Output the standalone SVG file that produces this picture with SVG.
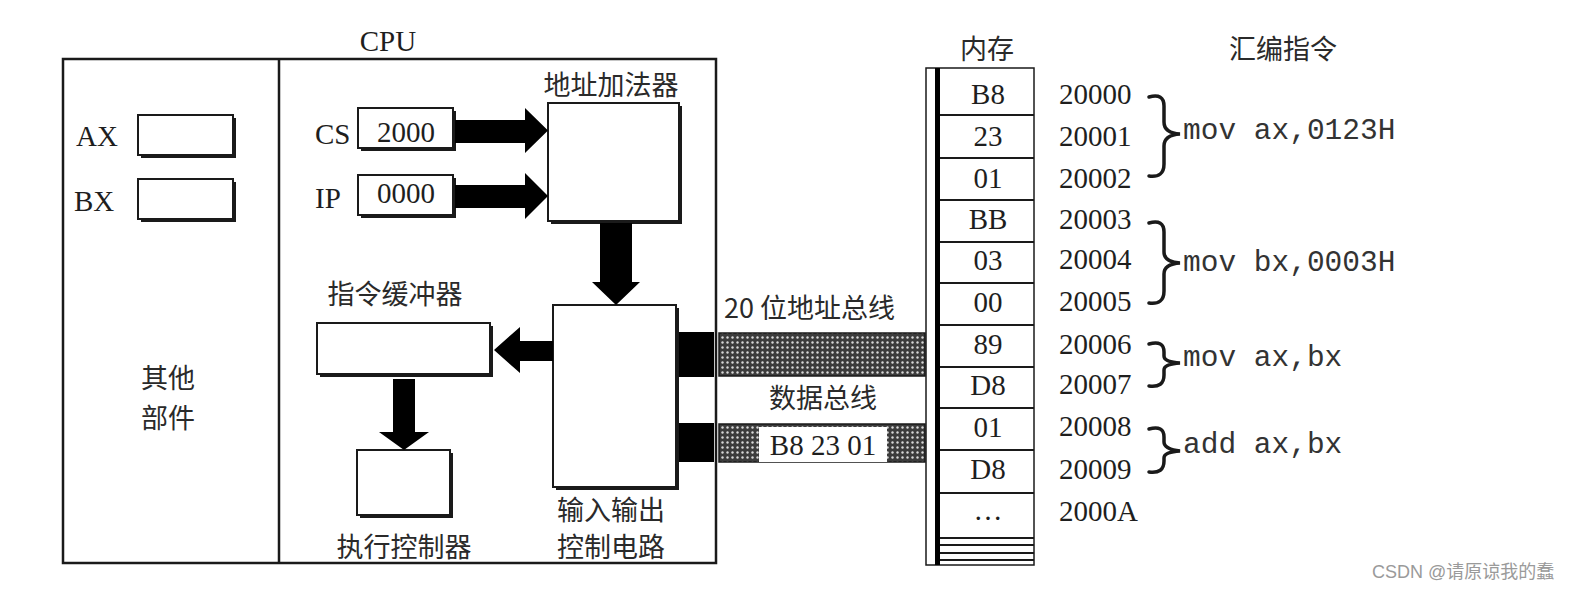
<svg xmlns="http://www.w3.org/2000/svg" width="1577" height="593" viewBox="0 0 1577 593">
<style>
.t{font-family:"Liberation Serif","Noto Sans CJK SC",serif;font-size:29px;fill:#1e1e1e}
.c{font-family:"Noto Sans CJK SC",sans-serif;font-size:27px;fill:#2a2a2a}
.m{font-family:"Liberation Mono",monospace;font-size:29.5px;fill:#333}
.box{fill:#fff;stroke:#1a1a1a;stroke-width:2}
.sh{fill:#1a1a1a}
.ln{fill:none;stroke:#1a1a1a;stroke-width:2.5}
.arr{fill:#000}
.br{fill:none;stroke:#1a1a1a;stroke-width:3.5;stroke-linecap:round}
.wm{font-family:"Liberation Sans","Noto Sans CJK SC",sans-serif;font-size:18px;fill:#9a9a9a}
</style>
<defs>
<pattern id="hatch" width="5" height="5" patternUnits="userSpaceOnUse">
<rect width="5" height="5" fill="#3c3c3c"/>
<circle cx="2.5" cy="2.5" r="1.2" fill="#d8d8d8"/>
</pattern>
</defs>
<rect width="1577" height="593" fill="#fff"/>

<g id="cpu-frame">
<rect x="63" y="59" width="653" height="504" class="ln"/>
<line x1="279" y1="59" x2="279" y2="563" class="ln"/>
<text x="388" y="51" class="t" text-anchor="middle">CPU</text>
</g>

<g id="other-parts">
<text x="168" y="388" class="c" text-anchor="middle">其他</text>
<text x="168" y="428" class="c" text-anchor="middle">部件</text>
</g>

<g id="ax">
<text x="76" y="146" class="t">AX</text>
<rect x="141" y="118" width="95" height="40" class="sh"/>
<rect x="138" y="115" width="95" height="40" class="box"/>
</g>
<g id="bx">
<text x="74" y="211" class="t">BX</text>
<rect x="141" y="182" width="95" height="40" class="sh"/>
<rect x="138" y="179" width="95" height="40" class="box"/>
</g>

<g id="cs">
<text x="315" y="144" class="t">CS</text>
<rect x="361" y="111" width="95" height="40" class="sh"/>
<rect x="358" y="108" width="95" height="40" class="box"/>
<text x="406" y="142" class="t" text-anchor="middle">2000</text>
</g>
<g id="ip">
<text x="315" y="208" class="t">IP</text>
<rect x="361" y="178" width="95" height="40" class="sh"/>
<rect x="358" y="175" width="95" height="40" class="box"/>
<text x="406" y="203" class="t" text-anchor="middle">0000</text>
</g>

<g id="adder">
<text x="611" y="95" class="c" text-anchor="middle">地址加法器</text>
<rect x="551" y="106" width="131" height="118" class="sh"/>
<rect x="548" y="103" width="131" height="118" class="box"/>
</g>

<g id="io">
<rect x="556" y="308" width="123" height="182" class="sh"/>
<rect x="553" y="305" width="123" height="182" class="box"/>
<text x="611" y="520" class="c" text-anchor="middle">输入输出</text>
<text x="611" y="557" class="c" text-anchor="middle">控制电路</text>
</g>

<g id="buffer">
<text x="395" y="304" class="c" text-anchor="middle">指令缓冲器</text>
<rect x="320" y="326" width="173" height="51" class="sh"/>
<rect x="317" y="323" width="173" height="51" class="box"/>
</g>

<g id="exec">
<rect x="360" y="453" width="93" height="65" class="sh"/>
<rect x="357" y="450" width="93" height="65" class="box"/>
<text x="404" y="557" class="c" text-anchor="middle">执行控制器</text>
</g>

<g id="address-bus">
<rect x="679" y="332" width="35" height="45" class="arr"/>
<rect x="719" y="333" width="206" height="43" fill="url(#hatch)" stroke="#1a1a1a" stroke-width="1.5"/>
<text x="724" y="318" class="c">20 位地址总线</text>
</g>

<g id="data-bus">
<rect x="679" y="423" width="35" height="39" class="arr"/>
<rect x="719" y="424" width="206" height="38" fill="url(#hatch)" stroke="#1a1a1a" stroke-width="1.5"/>
<rect x="759" y="427" width="128" height="35" fill="#fff"/>
<text x="823" y="408" class="c" text-anchor="middle">数据总线</text>
<text x="823" y="455" class="t" text-anchor="middle">B8 23 01</text>
</g>

<g id="connectors">
<polygon class="arr" points="455,120 525,120 525,108 548,130.5 525,153 525,143 455,143"/>
<polygon class="arr" points="455,185 525,185 525,173 548,196 525,219 525,208 455,208"/>
<polygon class="arr" points="600,223 632,223 632,282 640,282 616,305 592,282 600,282"/>
<polygon class="arr" points="553,341 520,341 520,327 494,350 520,373 520,361 553,361"/>
<polygon class="arr" points="393,379 415,379 415,432 429,432 404,450 379,432 393,432"/>
</g>

<g id="memory">
<text x="987" y="59" class="c" text-anchor="middle">内存</text>
<rect x="926" y="68" width="108" height="497" fill="#fff" stroke="#1a1a1a" stroke-width="1.5"/>
<line x1="937.5" y1="68" x2="937.5" y2="565" stroke="#000" stroke-width="5"/>
<g stroke="#1a1a1a" stroke-width="2">
<line x1="940" y1="115" x2="1034" y2="115"/>
<line x1="940" y1="158" x2="1034" y2="158"/>
<line x1="940" y1="200" x2="1034" y2="200"/>
<line x1="940" y1="242" x2="1034" y2="242"/>
<line x1="940" y1="283" x2="1034" y2="283"/>
<line x1="940" y1="325" x2="1034" y2="325"/>
<line x1="940" y1="367" x2="1034" y2="367"/>
<line x1="940" y1="408" x2="1034" y2="408"/>
<line x1="940" y1="450" x2="1034" y2="450"/>
<line x1="940" y1="493" x2="1034" y2="493"/>
<line x1="940" y1="538" x2="1034" y2="538"/>
<line x1="940" y1="545" x2="1034" y2="545"/>
<line x1="940" y1="553" x2="1034" y2="553"/>
<line x1="940" y1="560" x2="1034" y2="560"/>
</g>
<g class="t" text-anchor="middle">
<text x="988" y="104">B8</text>
<text x="988" y="146">23</text>
<text x="988" y="188">01</text>
<text x="988" y="229">BB</text>
<text x="988" y="270">03</text>
<text x="988" y="312">00</text>
<text x="988" y="354">89</text>
<text x="988" y="395">D8</text>
<text x="988" y="437">01</text>
<text x="988" y="479">D8</text>
<text x="988" y="520">…</text>
</g>
</g>

<g id="addresses" class="t">
<text x="1059" y="104">20000</text>
<text x="1059" y="146">20001</text>
<text x="1059" y="188">20002</text>
<text x="1059" y="229">20003</text>
<text x="1059" y="269">20004</text>
<text x="1059" y="311">20005</text>
<text x="1059" y="354">20006</text>
<text x="1059" y="394">20007</text>
<text x="1059" y="436">20008</text>
<text x="1059" y="479">20009</text>
<text x="1059" y="521">2000A</text>
</g>

<g id="instructions">
<text x="1283" y="59" class="c" text-anchor="middle">汇编指令</text>
<path class="br" d="M1149,97 Q1164,93 1164,106 L1164,122 Q1164,133 1180,134 Q1164,135 1164,146 L1164,164 Q1164,178 1149,176"/>
<path class="br" d="M1149,223 Q1164,219 1164,232 L1164,252 Q1164,262 1180,263 Q1164,264 1164,274 L1164,291 Q1164,305 1149,303"/>
<path class="br" d="M1149,344 Q1164,340 1164,352 L1164,356 Q1164,362 1180,363 Q1164,364 1164,370 L1164,375 Q1164,388 1149,386"/>
<path class="br" d="M1149,429 Q1164,425 1164,437 L1164,442 Q1164,449 1180,451 Q1164,452 1164,458 L1164,461 Q1164,474 1149,472"/>
<text x="1183" y="139" class="m">mov ax,0123H</text>
<text x="1183" y="271" class="m">mov bx,0003H</text>
<text x="1183" y="366" class="m">mov ax,bx</text>
<text x="1183" y="453" class="m">add ax,bx</text>
</g>

<text x="1372" y="578" class="wm">CSDN @请原谅我的蠢</text>
</svg>
